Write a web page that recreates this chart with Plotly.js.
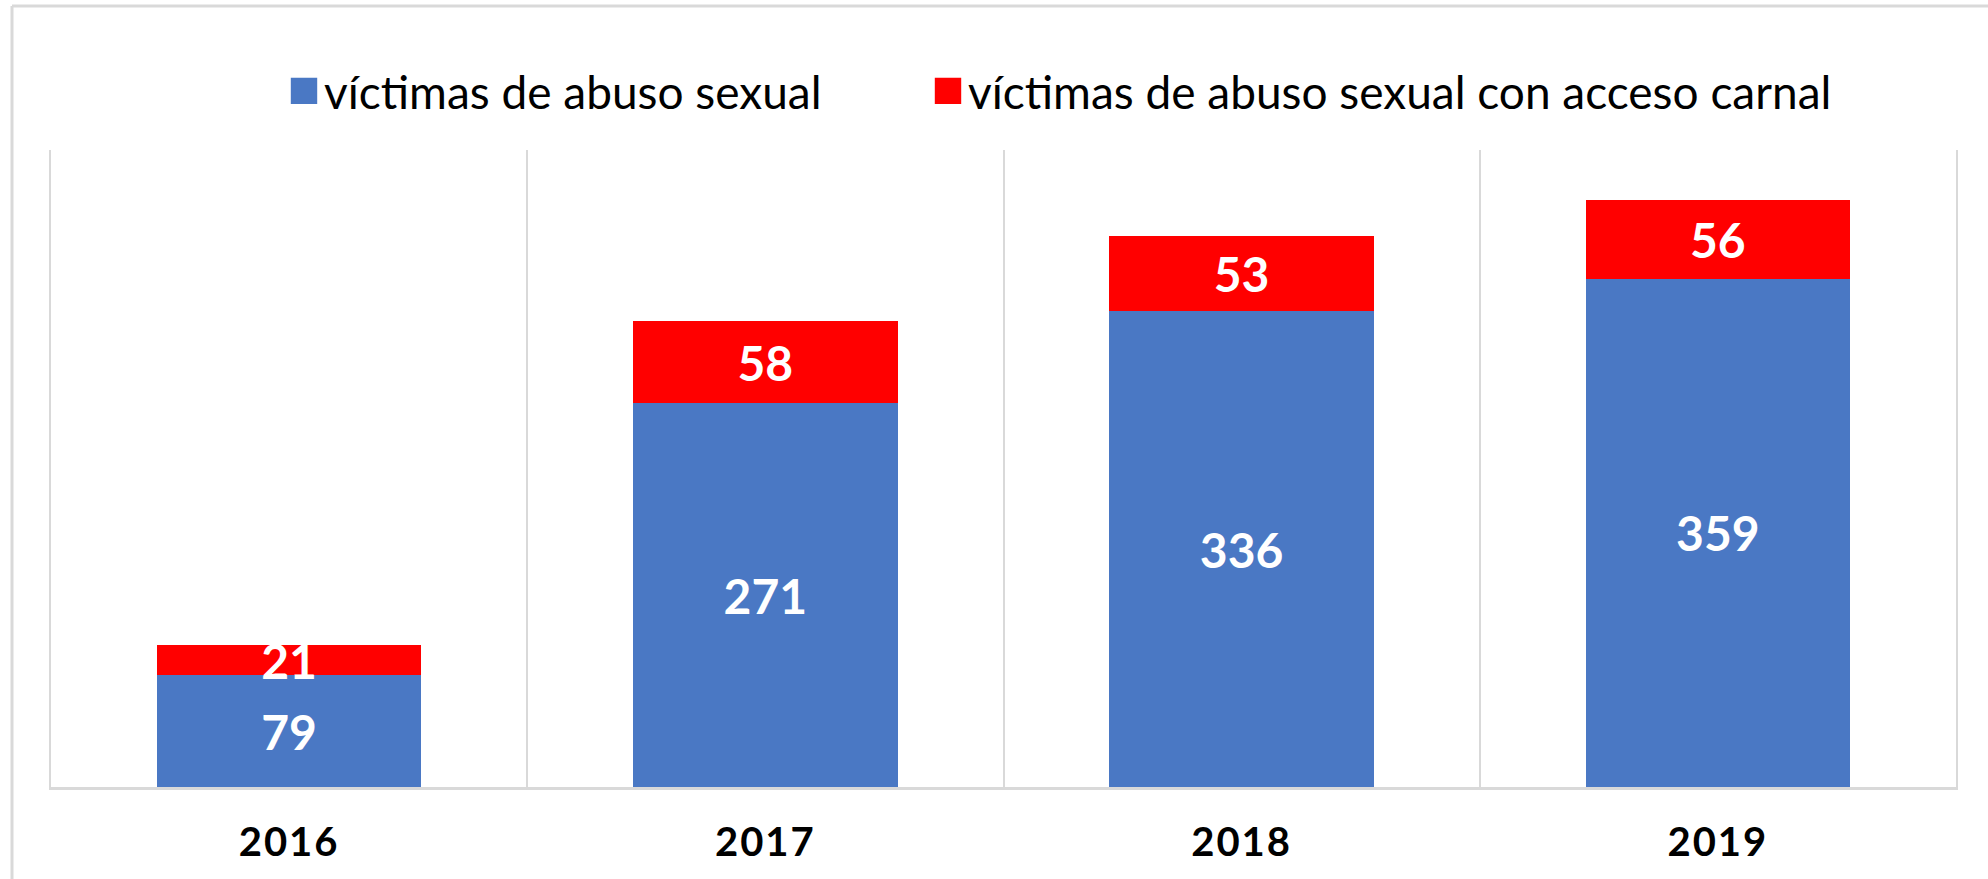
<!DOCTYPE html>
<html>
<head>
<meta charset="utf-8">
<script src="https://cdn.plot.ly/plotly-3.0.1.min.js"></script>
<style>
html,body{margin:0;padding:0;background:#fff;}
#chart{width:1988px;height:879px;}
#chart .xtick text{letter-spacing:2px;}
</style>
</head>
<body>
<div id="chart"></div>
<script>
const years = ['2016', '2017', '2018', '2019'];
const abusoSexual = [79, 271, 336, 359];
const accesoCarnal = [21, 58, 53, 56];
const seriesNames = ['víctimas de abuso sexual', 'víctimas de abuso sexual con acceso carnal'];
const seriesColors = ['#4A78C4', '#FF0000'];

const FONT = 'Lato, "Open Sans", sans-serif';

function barTrace(vals, name, color, legendW) {
  return {
    type: 'bar', x: years, y: vals, name: name,
    marker: {color: color, line: {width: 0}},
    text: vals.map(String), textposition: 'inside', insidetextanchor: 'middle',
    textangle: 0, constraintext: 'none',
    textfont: {family: FONT, size: 48, color: '#ffffff', weight: 'bold'},
    legendwidth: legendW,
    hoverinfo: 'skip'
  };
}

const data = [
  barTrace(abusoSexual, seriesNames[0], seriesColors[0], 599),
  barTrace(accesoCarnal, seriesNames[1], seriesColors[1], 900)
];

const W = 1988, H = 879, mL = 51, mR = 32, mT = 150, mB = 92;
const pw = W - mL - mR, ph = H - mT - mB;
const px = x => (x - mL) / pw;
const py = y => (H - mB - y) / ph;

const layout = {
  width: W, height: H,
  margin: {l: mL, r: mR, t: mT, b: mB, pad: 0},
  barmode: 'stack', bargap: 0.445,
  paper_bgcolor: '#ffffff', plot_bgcolor: '#ffffff',
  font: {family: FONT, color: '#000000'},
  showlegend: true,
  legend: {
    orientation: 'h', x: px(284), xanchor: 'left', y: py(91), yanchor: 'middle',
    font: {family: FONT, size: 46, color: '#000000'},
    traceorder: 'normal',
    bgcolor: 'rgba(0,0,0,0)'
  },
  xaxis: {
    type: 'category', tickson: 'boundaries', showgrid: true,
    gridcolor: '#d9d9d9', gridwidth: 2,
    showline: true, linecolor: '#d9d9d9', linewidth: 3,
    ticks: '', ticklen: 0, zeroline: false,
    tickfont: {family: FONT, size: 40, color: '#000000', weight: 'bold'},
    ticklabelstandoff: 18, fixedrange: true
  },
  yaxis: {
    range: [0, 450], showgrid: false, zeroline: false, showticklabels: false,
    ticks: '', showline: true, mirror: true, linecolor: '#d9d9d9', linewidth: 2,
    fixedrange: true
  },
  shapes: [
    {type: 'line', xref: 'paper', yref: 'paper', x0: px(12), x1: px(2000), y0: py(6), y1: py(6),
     line: {color: '#d9d9d9', width: 3}},
    {type: 'line', xref: 'paper', yref: 'paper', x0: px(12), x1: px(12), y0: py(6), y1: py(900),
     line: {color: '#d9d9d9', width: 3}}
  ]
};

Plotly.newPlot('chart', data, layout, {displayModeBar: false, staticPlot: true}).then(() => {
  document.querySelectorAll('.legendpoints path').forEach(p => {
    const t = p.getAttribute('transform') || '';
    p.setAttribute('transform', t + ' scale(2.2)');
  });
});
</script>
</body>
</html>
